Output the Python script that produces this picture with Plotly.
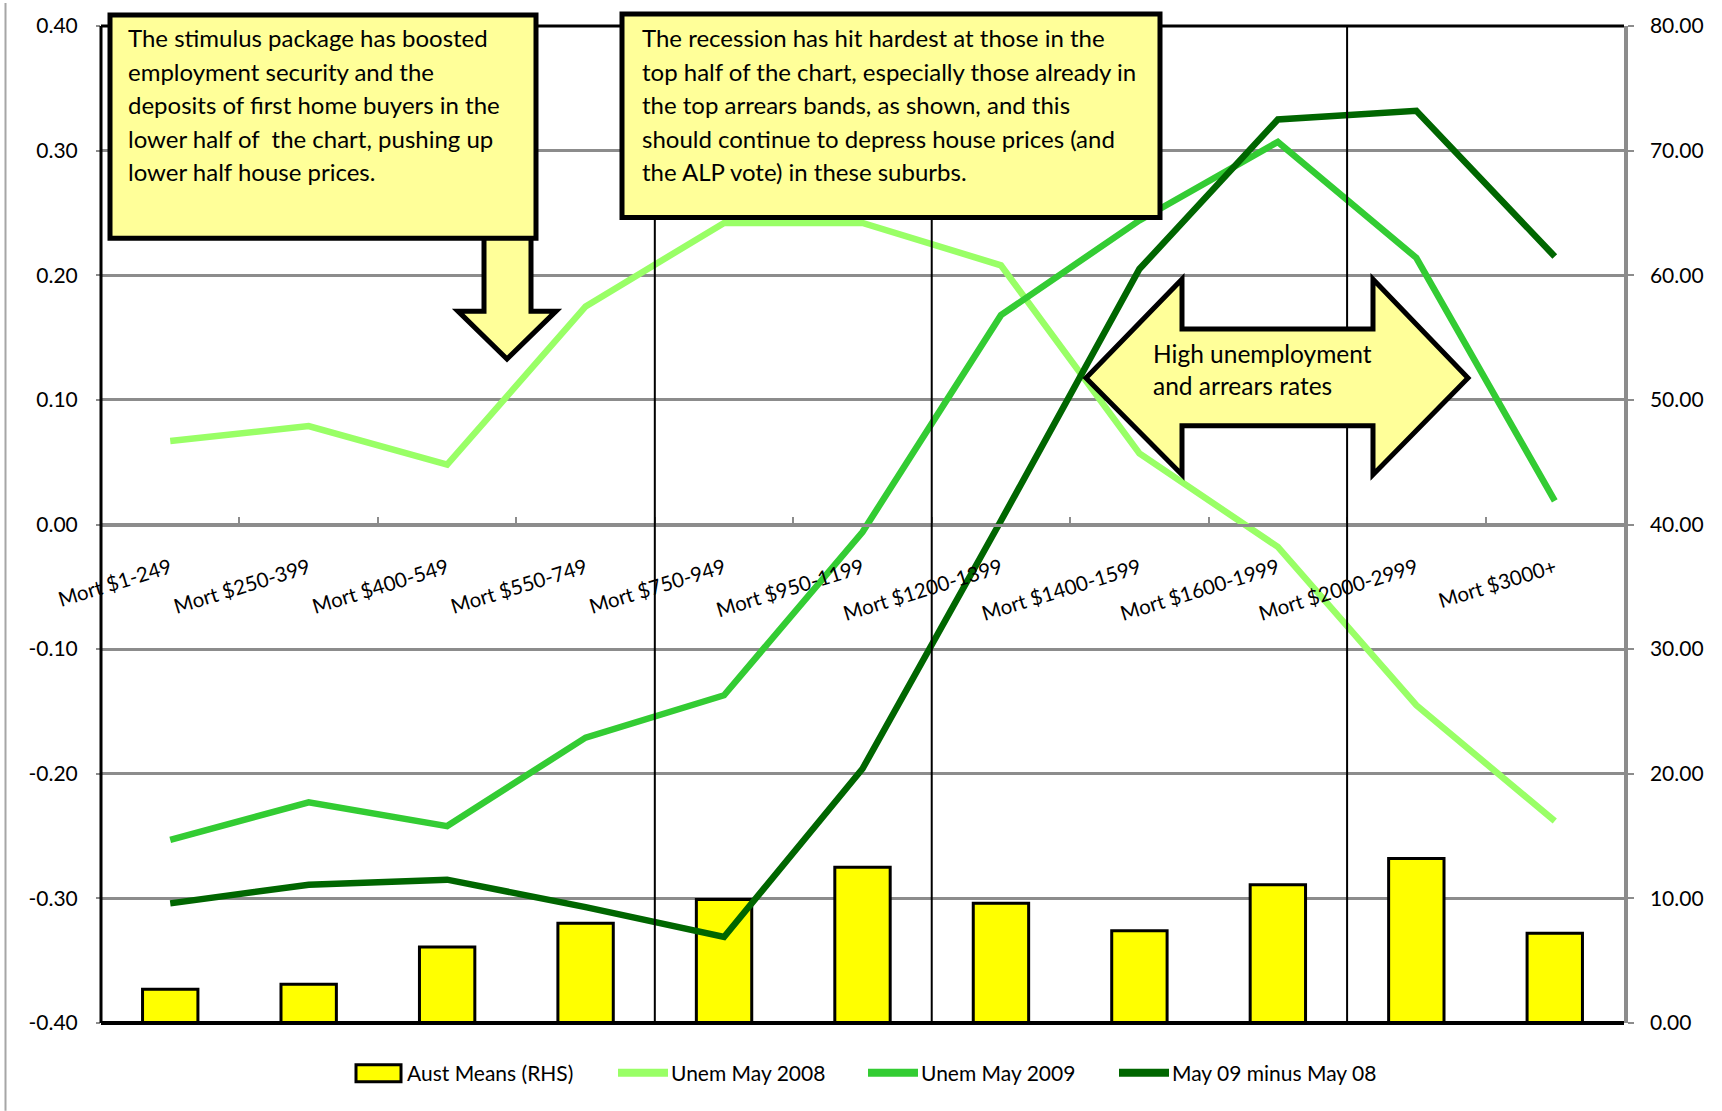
import plotly.graph_objects as go

# ---- data -------------------------------------------------------------
categories = ["Mort $1-249", "Mort $250-399", "Mort $400-549", "Mort $550-749",
              "Mort $750-949", "Mort $950-1199", "Mort $1200-1399", "Mort $1400-1599",
              "Mort $1600-1999", "Mort $2000-2999", "Mort $3000+"]
aust_means = [2.7, 3.1, 6.1, 8.0, 9.9, 12.5, 9.6, 7.4, 11.1, 13.2, 7.2]          # RHS
unem_may_2008 = [0.067, 0.079, 0.048, 0.175, 0.242, 0.242, 0.208, 0.057, -0.018, -0.145, -0.238]
unem_may_2009 = [-0.253, -0.223, -0.242, -0.171, -0.137, -0.006, 0.168, 0.244, 0.307, 0.214, 0.019]
may09_minus_may08 = [-0.304, -0.289, -0.285, -0.307, -0.331, -0.196, 0.003, 0.205, 0.325, 0.332, 0.215]

left_ticks = [-0.4, -0.3, -0.2, -0.1, 0.0, 0.1, 0.2, 0.3, 0.4]
right_ticks = [0, 10, 20, 30, 40, 50, 60, 70, 80]
left_labels = [f"{v:.2f}" for v in left_ticks]
right_labels = [f"{v:.2f}" for v in right_ticks]

# bands after which a divider line is drawn
divider_after = ["Mort $550-749", "Mort $950-1199", "Mort $1600-1999"]

box1_lines = ["The stimulus package has boosted",
              "employment security and the",
              "deposits of first home buyers in the",
              "lower half of  the chart, pushing up",
              "lower half house prices."]
box2_lines = ["The recession has hit hardest at those in the",
              "top half of the chart, especially those already in",
              "the top arrears bands, as shown, and this",
              "should continue to depress house prices (and",
              "the ALP vote) in these suburbs."]
arrow_lines = ["High unemployment", "and arrears rates"]

# ---- page geometry ----------------------------------------------------
W, H = 1722, 1111
ML, MR, MT, MB = 101, 98, 23, 88
PW, PH = W - ML - MR, H - MT - MB
FONT = "Lato"
GRID = "#8c8c8c"
NOTE_FILL = "#FFFF99"


def px(x):
    return (x - ML) / PW


def py(y):
    return (H - MB - y) / PH


def path(points):
    return "M " + " L ".join(f"{px(a):.5f},{py(b):.5f}" for a, b in points) + " Z"


fig = go.Figure()

fig.add_trace(go.Bar(
    x=categories, y=aust_means, name="Aust Means (RHS)", yaxis="y",
    width=0.4, marker=dict(color="#FFFF00", line=dict(color="black", width=3)),
))
for name, vals, color in [("Unem May 2008", unem_may_2008, "#99FF66"),
                          ("Unem May 2009", unem_may_2009, "#33CC33"),
                          ("May 09 minus May 08", may09_minus_may08, "#006600")]:
    fig.add_trace(go.Scatter(
        x=categories, y=vals, name=name, yaxis="y2", mode="lines",
        line=dict(color=color, width=6.5),
    ))

shapes = []
# outer chart-area edge on the left
shapes.append(dict(type="line", xref="paper", yref="paper", x0=px(5.5), x1=px(5.5),
                   y0=py(0), y1=py(H), line=dict(color="#a6a6a6", width=2)))
# band dividers
for cat in divider_after:
    xd = categories.index(cat) + 0.5
    shapes.append(dict(type="line", xref="x", yref="paper", x0=xd, x1=xd, y0=0, y1=1,
                       line=dict(color="black", width=2), layer="above"))
# plot-area frame (left, top, bottom)
shapes += [
    dict(type="line", xref="paper", yref="paper", x0=0, x1=0, y0=0, y1=1,
         line=dict(color="black", width=3), layer="above"),
    dict(type="line", xref="paper", yref="paper", x0=0, x1=1, y0=1, y1=1,
         line=dict(color="black", width=3), layer="above"),
    dict(type="line", xref="paper", yref="paper", x0=0, x1=1, y0=0, y1=0,
         line=dict(color="black", width=4), layer="above"),
]
note_style = dict(xref="paper", yref="paper", fillcolor=NOTE_FILL,
                  line=dict(color="black", width=5), layer="above")
# down arrow under the left note
shapes.append(dict(type="path", path=path([(484, 230), (484, 309), (458, 309), (507, 357),
                                           (556, 309), (531, 309), (531, 230)]), **note_style))
# note boxes
shapes.append(dict(type="rect", x0=px(110), x1=px(536), y0=py(236), y1=py(12), **note_style))
shapes.append(dict(type="rect", x0=px(622), x1=px(1160), y0=py(215), y1=py(11), **note_style))
# double-headed arrow
shapes.append(dict(type="path", path=path([(1086, 376), (1182, 277), (1182, 327), (1373, 327),
                                           (1373, 277), (1468, 376), (1373, 473), (1373, 424),
                                           (1182, 424), (1182, 473)]), **note_style))

annotations = []
text_font = dict(family=FONT, size=24, color="black")
line_y = [35, 68.5, 102, 135.5, 169]
for lines, x0 in [(box1_lines, 126), (box2_lines, 640)]:
    for t, yy in zip(lines, line_y):
        annotations.append(dict(text=t, x=px(x0), y=py(yy), xref="paper", yref="paper",
                                xanchor="left", yanchor="middle", showarrow=False,
                                font=text_font))
for t, yy in zip(arrow_lines, [351, 384]):
    annotations.append(dict(text=t, x=px(1151), y=py(yy), xref="paper", yref="paper",
                            xanchor="left", yanchor="middle", showarrow=False,
                            font=dict(family=FONT, size=24.5, color="black")))

# legend row
leg_y = 1073
leg_font = dict(family=FONT, size=21, color="black")
shapes.append(dict(type="rect", xref="paper", yref="paper", x0=px(356), x1=px(401),
                   y0=py(1082), y1=py(1065), fillcolor="#FFFF00",
                   line=dict(color="black", width=3)))
annotations.append(dict(text="Aust Means (RHS)", x=px(405), y=py(leg_y), xref="paper",
                        yref="paper", xanchor="left", yanchor="middle", showarrow=False,
                        font=leg_font))
for tr, x0 in zip(fig.data[1:], [618, 868, 1119]):
    shapes.append(dict(type="line", xref="paper", yref="paper", x0=px(x0), x1=px(x0 + 50),
                       y0=py(leg_y), y1=py(leg_y), line=dict(color=tr.line.color, width=8)))
    annotations.append(dict(text=tr.name, x=px(x0 + 51), y=py(leg_y), xref="paper",
                            yref="paper", xanchor="left", yanchor="middle", showarrow=False,
                            font=leg_font))

axis_font = dict(family=FONT, size=21, color="black")
fig.update_layout(
    width=W, height=H,
    margin=dict(l=ML, r=MR, t=MT, b=MB, pad=0),
    paper_bgcolor="white", plot_bgcolor="white",
    showlegend=False,
    bargap=0.6,
    xaxis=dict(type="category", categoryorder="array", categoryarray=categories,
               range=[-0.5, len(categories) - 0.5], anchor="free", position=0.5,
               showline=True, linecolor=GRID, linewidth=3, showgrid=False, zeroline=False,
               ticks="inside", tickson="boundaries", ticklen=7, tickwidth=2, tickcolor=GRID,
               tickangle=-17, ticklabelstandoff=22,
               tickfont=dict(family=FONT, size=20.5, color="black")),
    yaxis=dict(range=[0, 80], side="right", tickvals=right_ticks, ticktext=right_labels,
               showgrid=False, zeroline=False, showline=True, linecolor=GRID, linewidth=3.5,
               ticks="outside", ticklen=6, tickwidth=2, tickcolor=GRID,
               ticklabelstandoff=12, tickfont=axis_font),
    yaxis2=dict(range=[-0.4, 0.4], overlaying="y", side="left", tickvals=left_ticks,
                ticktext=left_labels, showgrid=True, gridcolor=GRID, gridwidth=2.5,
                zeroline=False, showline=False, ticks="outside", ticklen=4, tickwidth=2,
                tickcolor=GRID, ticklabelstandoff=14, tickfont=axis_font),
    shapes=shapes,
    annotations=annotations,
)

fig.write_html("out.html")
